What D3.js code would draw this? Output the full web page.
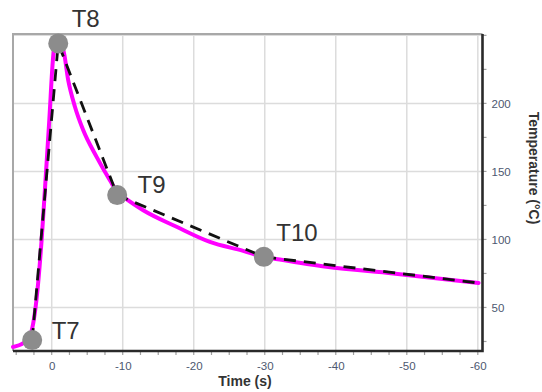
<!DOCTYPE html>
<html>
<head>
<meta charset="utf-8">
<script src="https://cdn.jsdelivr.net/npm/d3@7"></script>
<style>
  html, body { margin: 0; padding: 0; background: #fff; }
  svg { display: block; font-family: "Liberation Sans", Arial, sans-serif; }
</style>
</head>
<body>
<svg id="chart" width="542" height="392"></svg>
<script>
// Measured temperature trace (time in s, temperature in °C)
const curveTime = [5.45, 4.0, 3.1, 2.6, 2.15, 1.42, 0.96, 0.34, -0.21, -0.6, -1.62, -2.32, -3.27, -4.43, -6.32, -8.19, -9.36, -10.07, -12.88, -17.58, -22.27, -26.96, -29.8, -31.18, -38.7, -48.08, -60.1];
const curveTemp = [21.0, 23.7, 28.4, 38.5, 55.4, 99.6, 136.3, 187.7, 234.3, 244.3, 239.2, 217.1, 197.5, 180.4, 160.7, 143.6, 134.0, 131.3, 121.5, 109.3, 98.2, 91.6, 87.2, 86.0, 79.9, 75.0, 68.0];

// Sampled reference points joined by the dashed line
const pointNames = ["T7", "T8", "T9", "T10"];
const pointTime = [2.75, -0.92, -9.22, -29.87];
const pointTemp = [26.0, 244.1, 132.6, 87.2];
const dashEndTime = -60.1;
const dashEndTemp = 68.0;

// Axis ticks
const xTickValues = [0, -10, -20, -30, -40, -50, -60];
const xMinorTicks = d3.range(5, -60.1, -2.5);
const yTickValues = [50, 100, 150, 200];
const yMinorTicks = d3.range(25, 251, 25);
const xGrid = [0, -10, -20, -30, -40, -50, -60];
const yGrid = [50, 100, 150, 200, 250];

const svg = d3.select("#chart");
const margin = { top: 34, right: 59.5, bottom: 41, left: 13 };
const W = 542, H = 392;
const x0 = margin.left, x1 = W - margin.right, y0 = margin.top, y1 = H - margin.bottom;

const x = d3.scaleLinear().domain([5.45, -60.66]).range([x0, x1]);
const y = d3.scaleLinear().domain([18, 251]).range([y1, y0]);

// Grid
const grid = svg.append("g").attr("stroke", "#dcdcdc").attr("stroke-width", 1.5);
grid.selectAll("line.v").data(xGrid).join("line").attr("class", "v")
  .attr("x1", d => x(d)).attr("x2", d => x(d)).attr("y1", y0).attr("y2", y1);
grid.selectAll("line.h").data(yGrid).join("line").attr("class", "h")
  .attr("x1", x0).attr("x2", x1).attr("y1", d => y(d)).attr("y2", d => y(d));

// Minor tick marks outside the frame
const ticks = svg.append("g").attr("stroke", "#a0a0a0").attr("stroke-width", 1.2);
ticks.selectAll("line.xt").data(xMinorTicks).join("line").attr("class", "xt")
  .attr("x1", d => x(d)).attr("x2", d => x(d)).attr("y1", y1).attr("y2", y1 + 4);
ticks.selectAll("line.yt").data(yMinorTicks).join("line").attr("class", "yt")
  .attr("x1", x1).attr("x2", x1 + 4).attr("y1", d => y(d)).attr("y2", d => y(d));

// Axes (labels only; frame drawn separately)
const xAxis = d3.axisBottom(x).tickValues(xTickValues).tickFormat(d => String(d)).tickSize(0).tickPadding(0);
const gx = svg.append("g").attr("transform", `translate(0,${y1})`).call(xAxis);
gx.select(".domain").remove();
gx.selectAll("text").attr("fill", "#4d5870").attr("font-size", 11.5)
  .attr("dy", null).attr("y", 18.5);

const yAxis = d3.axisRight(y).tickValues(yTickValues).tickFormat(d => String(d)).tickSize(0).tickPadding(9);
const gy = svg.append("g").attr("transform", `translate(${x1},0)`).call(yAxis);
gy.select(".domain").remove();
gy.selectAll("text").attr("fill", "#4d5870").attr("font-size", 11.5);

// Frame: light top/left, dark bottom/right
svg.append("path").attr("fill", "none").attr("stroke", "#a8a8a8").attr("stroke-width", 2)
  .attr("d", `M${x0},${y1}V${y0}H${x1}`);
svg.append("path").attr("fill", "none").attr("stroke", "#2a2a2a").attr("stroke-width", 2.6)
  .attr("d", `M${x0},${y1}H${x1}V${y0}`);

// Temperature curve
const curvePts = curveTime.map((t, i) => [t, curveTemp[i]]);
const line = d3.line().x(d => x(d[0])).y(d => y(d[1]));
svg.append("path").datum(curvePts)
  .attr("fill", "none").attr("stroke", "#ff00ff").attr("stroke-width", 4)
  .attr("stroke-linejoin", "round").attr("stroke-linecap", "round")
  .attr("d", line.curve(d3.curveMonotoneX));

// Dashed line through the sampled points
const dashPts = pointTime.map((t, i) => [t, pointTemp[i]]).concat([[dashEndTime, dashEndTemp]]);
svg.append("path").datum(dashPts)
  .attr("fill", "none").attr("stroke", "#111").attr("stroke-width", 2.8)
  .attr("stroke-dasharray", "12,8")
  .attr("d", d3.line().x(d => x(d[0])).y(d => y(d[1]))(dashPts));

// Sample markers
const pts = pointNames.map((n, i) => ({ name: n, t: pointTime[i], v: pointTemp[i] }));
svg.append("g").selectAll("circle").data(pts).join("circle")
  .attr("cx", d => x(d.t)).attr("cy", d => y(d.v)).attr("r", 10)
  .attr("fill", "#8c8c8c");

// Marker labels
const labelOffset = { T7: [19.5, -0.7], T8: [13.4, -16], T9: [20.3, -2.3], T10: [12.5, -16] };
svg.append("g").selectAll("text").data(pts).join("text")
  .attr("x", d => x(d.t) + labelOffset[d.name][0])
  .attr("y", d => y(d.v) + labelOffset[d.name][1])
  .attr("font-size", 24).attr("fill", "#333")
  .text(d => d.name);

// Axis titles
svg.append("text").attr("x", 245).attr("y", 386).attr("text-anchor", "middle")
  .attr("font-size", 14).attr("font-weight", "bold").attr("fill", "#333")
  .text("Time (s)");
svg.append("text").attr("transform", "translate(529,168) rotate(90)").attr("text-anchor", "middle")
  .attr("font-size", 14).attr("font-weight", "bold").attr("fill", "#333")
  .text("Temperature (°C)");
</script>
</body>
</html>
